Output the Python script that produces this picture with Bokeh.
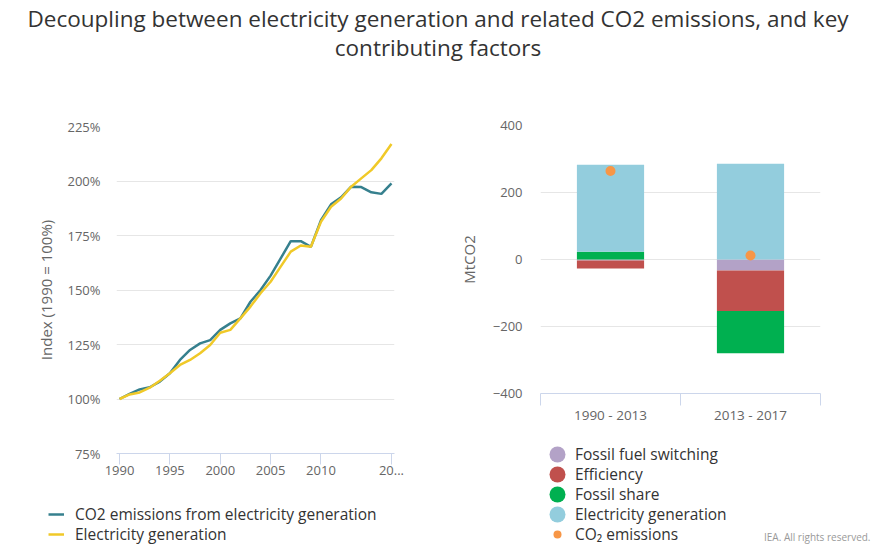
from bokeh.plotting import figure
from bokeh.models import (ColumnDataSource, Range1d, FixedTicker, PrintfTickFormatter,
                          Legend, LegendItem, Label)
from bokeh.layouts import column, row
from bokeh.embed import file_html
from bokeh.resources import INLINE
from bokeh.core.properties import value

FONT = "Open Sans"
TEXT_DARK = "#333333"
TEXT_GREY = "#666666"
GRID = "#E6E6E6"
AXIS = "#CCD6EB"
NAN = float("nan")

# ---------------- data ----------------
title_lines = ["Decoupling between electricity generation and related CO2 emissions, and key",
               "contributing factors"]

years = list(range(1990, 2018))
co2_index = [100, 102.3, 104.4, 105.4, 108.0, 111.8, 117.9, 122.5, 125.5, 127.0,
             131.7, 134.7, 137.0, 144.6, 150.0, 156.6, 164.5, 172.4, 172.4, 169.8,
             182.0, 189.3, 192.5, 197.4, 197.2, 194.8, 194.1, 198.9]
generation_index = [100, 102.1, 103.0, 105.2, 108.4, 111.8, 115.6, 117.9, 121.0, 124.8,
                    130.4, 131.7, 137.0, 142.4, 148.5, 153.8, 160.7, 167.6, 170.4, 169.8,
                    181.3, 188.2, 192.0, 197.4, 201.2, 205.0, 210.4, 217.0]
line_names = ["CO2 emissions from electricity generation", "Electricity generation"]
line_colors = ["#36808E", "#F0C928"]
index_ticks = [75, 100, 125, 150, 175, 200, 225]
year_ticks = [1990, 1995, 2000, 2005, 2010, 2017]
year_tick_labels = ["1990", "1995", "2000", "2005", "2010", "20..."]

periods = ["1990 - 2013", "2013 - 2017"]
factor_names = ["Fossil fuel switching", "Efficiency", "Fossil share", "Electricity generation"]
fossil_fuel_switching = [-3, -33]
efficiency = [-24, -121]
fossil_share = [23, -126]
electricity_generation = [260, 286]
co2_emissions = [264, 12]
co2_name = "CO\u2082 emissions"
factor_colors = ["#B3A2C7", "#C0504D", "#00B050", "#93CDDD"]
co2_color = "#F79646"
mt_ticks = [-400, -200, 0, 200, 400]
mt_tick_labels = ["\u2212400", "\u2212200", "0", "200", "400"]
credit = "IEA. All rights reserved."

ROW_PITCH = 20      # legend rows, px
LEG_STYLE = dict(padding=0, margin=0, spacing=0, label_text_font=FONT,
                 label_text_font_size="15.5px", label_text_color=TEXT_DARK,
                 background_fill_alpha=0, border_line_alpha=0, orientation="vertical",
                 glyph_height=20, label_height=20)


def blank_fig(width, height):
    f = figure(width=width, height=height, x_range=Range1d(0, 1), y_range=Range1d(0, 1),
               x_axis_location=None, y_axis_location=None, output_backend="svg",
               toolbar_location=None, min_border=0)
    f.grid.visible = False
    f.outline_line_color = None
    return f


def add_rows(fig, items, x, bottom_y, **kw):
    """One single-item legend per row so that rows sit exactly ROW_PITCH apart."""
    n = len(items)
    for k, item in enumerate(items):
        fig.add_layout(Legend(items=[item], location=(x, bottom_y + (n - 1 - k) * ROW_PITCH),
                              **kw, **LEG_STYLE))


def style_axis(ax, size="13px"):
    ax.major_label_text_font = FONT
    ax.major_label_text_font_size = size
    ax.major_label_text_color = TEXT_GREY
    ax.minor_tick_line_color = None


def style_y(ax, label, standoff, label_standoff):
    ax.axis_line_color = None
    ax.major_tick_line_color = None
    ax.major_tick_out = 0
    ax.major_tick_in = 0
    ax.major_label_standoff = standoff
    ax.axis_label = label
    ax.axis_label_text_font = FONT
    ax.axis_label_text_font_size = "15px"
    ax.axis_label_text_font_style = "normal"
    ax.axis_label_text_color = TEXT_GREY
    ax.axis_label_standoff = label_standoff


# ---------------- title ----------------
tp = figure(width=875, height=64, x_range=Range1d(0, 875), y_range=Range1d(64, 0),
            x_axis_location=None, y_axis_location=None, output_backend="svg",
            toolbar_location=None, min_border=0)
tp.grid.visible = False
tp.outline_line_color = None
tp.text(x=[437.5, 437.5], y=[18, 47], text=title_lines, text_align="center",
        text_baseline="middle", text_font=value(FONT), text_font_size="22.5px",
        text_color=TEXT_DARK)

# ---------------- left: line chart ----------------
lp = figure(width=440, height=426, x_range=Range1d(1989.7, 2017.3), y_range=Range1d(75, 225),
            output_backend="svg", toolbar_location=None,
            min_border_left=116, min_border_right=46, min_border_top=62, min_border_bottom=37)
lp.outline_line_color = None
line_series = [co2_index, generation_index]
for vals, color in zip(line_series, line_colors):
    lp.line(years, vals, line_color=color, line_width=2.5)

lp.xgrid.visible = False
lp.ygrid.grid_line_color = GRID
lp.ygrid.ticker = FixedTicker(ticks=index_ticks)

style_axis(lp.xaxis[0])
style_axis(lp.yaxis[0])
lp.yaxis.ticker = FixedTicker(ticks=index_ticks)
lp.yaxis.formatter = PrintfTickFormatter(format="%d%%")
style_y(lp.yaxis[0], "Index (1990 = 100%)", 16, 8)

lp.xaxis.ticker = FixedTicker(ticks=year_ticks)
lp.xaxis.major_label_overrides = dict(zip(year_ticks, year_tick_labels))
lp.xaxis.axis_line_color = AXIS
lp.xaxis.major_tick_line_color = AXIS
lp.xaxis.major_tick_out = 11
lp.xaxis.major_tick_in = 0
lp.xaxis.major_label_standoff = 1

# left legend panel
lf = blank_fig(440, 59)
line_items = []
for name, color in zip(line_names, line_colors):
    d = lf.line(x=[NAN], y=[NAN], line_color=color, line_width=2.5)
    line_items.append(LegendItem(label=name, renderers=[d]))
add_rows(lf, line_items, 48, 4, glyph_width=16, label_standoff=11)

# ---------------- right: stacked bars ----------------
x_pos = list(range(len(periods)))
rp = figure(width=435, height=366, x_range=Range1d(-0.5, len(periods) - 0.5),
            y_range=Range1d(-400, 400), output_backend="svg", toolbar_location=None,
            min_border_left=100, min_border_right=55, min_border_top=61, min_border_bottom=37)
rp.outline_line_color = None

series = [fossil_fuel_switching, efficiency, fossil_share, electricity_generation]
pos = [0.0] * len(periods)
neg = [0.0] * len(periods)
for vals, color in zip(series, factor_colors):
    bottoms, tops = [], []
    for i, v in enumerate(vals):
        if v >= 0:
            bottoms.append(pos[i]); tops.append(pos[i] + v); pos[i] += v
        else:
            tops.append(neg[i]); bottoms.append(neg[i] + v); neg[i] += v
    src = ColumnDataSource(dict(x=x_pos, bottom=bottoms, top=tops))
    rp.vbar(x="x", width=0.48, bottom="bottom", top="top", source=src,
            fill_color=color, line_color=None)

rp.scatter(x_pos, co2_emissions, marker="circle", size=10, fill_color=co2_color,
           line_color=None)

rp.xgrid.visible = False
rp.ygrid.grid_line_color = GRID
rp.ygrid.ticker = FixedTicker(ticks=mt_ticks)

style_axis(rp.xaxis[0], "13.5px")
style_axis(rp.yaxis[0])
rp.yaxis.ticker = FixedTicker(ticks=mt_ticks)
rp.yaxis.major_label_overrides = dict(zip(mt_ticks, mt_tick_labels))
style_y(rp.yaxis[0], "MtCO2", 18, 11)

boundaries = [i - 0.5 for i in range(len(periods) + 1)]
rp.xaxis.ticker = FixedTicker(ticks=x_pos, minor_ticks=boundaries)
rp.xaxis.major_label_overrides = dict(zip(x_pos, periods))
rp.xaxis.axis_line_color = AXIS
rp.xaxis.major_tick_line_color = None
rp.xaxis.major_tick_out = 0
rp.xaxis.major_tick_in = 0
rp.xaxis.minor_tick_line_color = AXIS
rp.xaxis.minor_tick_out = 12
rp.xaxis.minor_tick_in = 0
rp.xaxis.major_label_standoff = 0

# right legend panel: round swatches from renderers without visible data
rf = blank_fig(435, 119)
factor_items = []
for name, color in zip(factor_names, factor_colors):
    d = rf.ellipse(x=[NAN], y=[NAN], width=16, height=16, width_units="screen",
                   height_units="screen", fill_color=color, line_color=None)
    factor_items.append(LegendItem(label=name, renderers=[d]))
d = rf.scatter(x=[NAN], y=[NAN], marker="circle", size=10, fill_color=co2_color,
               line_color=None)
factor_items.append(LegendItem(label=co2_name, renderers=[d]))
add_rows(rf, factor_items, 107, 4, glyph_width=20, label_standoff=8)
rf.add_layout(Label(x=430, y=13, x_units="screen", y_units="screen", text=credit,
                    text_align="right", text_baseline="middle", text_font=FONT,
                    text_font_size="10px", text_color="#999999"))

layout = column(tp, row(column(lp, row(lf)), column(rp, row(rf))))
open("out.html", "w").write(file_html(layout, INLINE))
